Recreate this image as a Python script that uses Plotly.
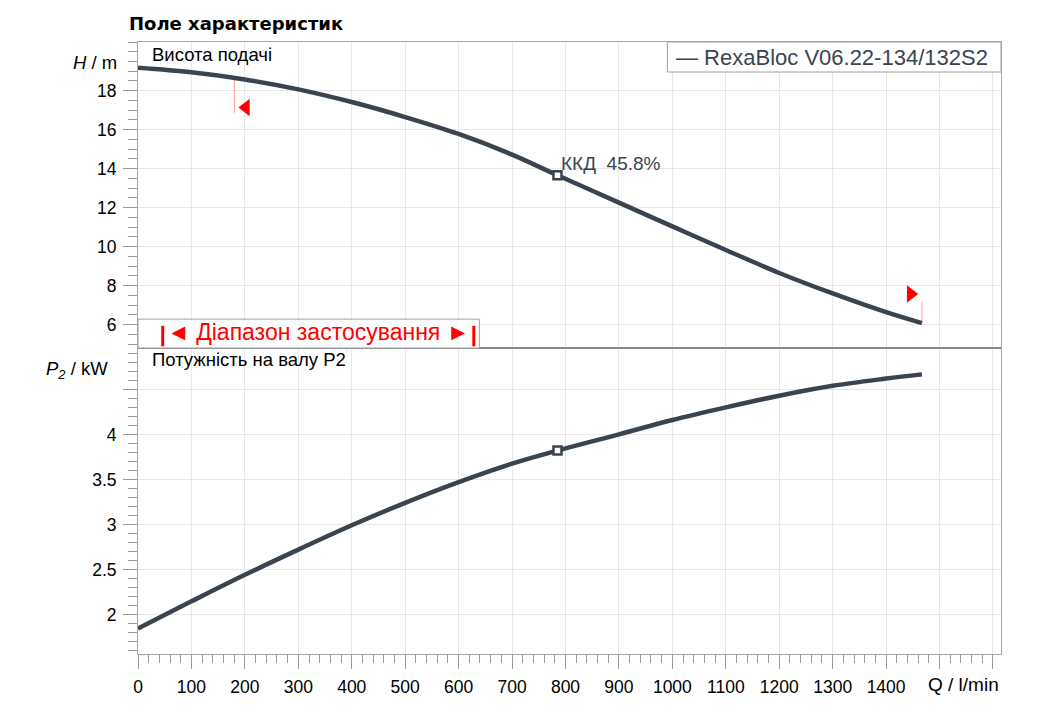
import plotly.graph_objects as go
from plotly.subplots import make_subplots

# ---------------- data ----------------
Q_curve = [0, 100, 200, 300, 400, 500, 600, 700, 785, 900, 1000, 1100, 1200, 1300, 1400, 1467]
H_curve = [19.18, 18.95, 18.58, 18.07, 17.42, 16.65, 15.78, 14.72, 13.66, 12.26, 11.04, 9.83, 8.65, 7.6, 6.64, 6.08]
P_curve = [1.844, 2.145, 2.44, 2.72, 2.99, 3.24, 3.47, 3.675, 3.82, 4.0, 4.16, 4.3, 4.43, 4.54, 4.62, 4.667]

Q_duty = [785]
H_duty = [13.66]
P_duty = [3.82]
eff_text = "ККД\u00a0\u00a045.8%"

Q_min_line = [180.4, 180.4]
H_min_line = [18.68, 16.87]
Q_max_line = [1467, 1467]
H_max_line = [7.2, 6.08]
Q_tri_left = [202]
H_tri_left = [17.14]
Q_tri_right = [1446]
H_tri_right = [7.57]

x_tickvals = list(range(0, 1500, 100))          # labelled ticks
x_extra_ticks = [1500, 1600]                     # unlabelled major ticks
H_tickvals = [6, 8, 10, 12, 14, 16, 18]
P_tickvals = [2, 2.5, 3, 3.5, 4]
P_extra_ticks = [4.5]

series_name = "RexaBloc V06.22-134/132S2"

# ---------------- style ----------------
FONT = "Liberation Sans, Arial, sans-serif"
CURVE = "#3a4450"
GRID = "#e8e8e8"
FRAME = "#a8a8a8"
TICKC = "#9a9a9a"
X_RANGE = [0, 1615]
H_RANGE = [4.8, 20.5]
P_RANGE = [1.56, 4.96]

fig = make_subplots(rows=2, cols=1, shared_xaxes=True, vertical_spacing=0)

# red range markers
fig.add_trace(go.Scatter(x=Q_min_line, y=H_min_line, mode="lines",
                         line=dict(color="#ff9c9c", width=1), hoverinfo="skip"), row=1, col=1)
fig.add_trace(go.Scatter(x=Q_max_line, y=H_max_line, mode="lines",
                         line=dict(color="#ff9c9c", width=1), hoverinfo="skip"), row=1, col=1)

# curves
fig.add_trace(go.Scatter(x=Q_curve, y=H_curve, mode="lines", name=series_name,
                         line=dict(color=CURVE, width=4.5, shape="spline", smoothing=1.0)), row=1, col=1)
fig.add_trace(go.Scatter(x=Q_curve, y=P_curve, mode="lines",
                         line=dict(color=CURVE, width=4.5, shape="spline", smoothing=1.0)), row=2, col=1)

# duty points
fig.add_trace(go.Scatter(x=Q_duty, y=H_duty, mode="markers",
                         marker=dict(symbol="square", size=8, color="white",
                                     line=dict(color=CURVE, width=2.5))), row=1, col=1)
fig.add_trace(go.Scatter(x=Q_duty, y=P_duty, mode="markers",
                         marker=dict(symbol="square", size=8, color="white",
                                     line=dict(color=CURVE, width=2.5))), row=2, col=1)

# triangles
fig.add_trace(go.Scatter(x=Q_tri_left, y=H_tri_left, mode="markers",
                         marker=dict(symbol="triangle-left", size=15, color="#ff0000")), row=1, col=1)
fig.add_trace(go.Scatter(x=Q_tri_right, y=H_tri_right, mode="markers",
                         marker=dict(symbol="triangle-right", size=15, color="#ff0000")), row=1, col=1)

# helper traces registering the overlay axes (unlabelled extra ticks / grid)
fig.add_trace(go.Scatter(x=[None], y=[None], xaxis="x3", yaxis="y2", mode="markers",
                         hoverinfo="skip", showlegend=False))
fig.add_trace(go.Scatter(x=[None], y=[None], xaxis="x2", yaxis="y3", mode="markers",
                         hoverinfo="skip", showlegend=False))

axis_common = dict(showline=True, mirror=True, linecolor=FRAME, linewidth=1,
                   showgrid=True, gridcolor=GRID, gridwidth=1, zeroline=False)

fig.update_layout(
    width=1045, height=722,
    margin=dict(l=138, r=44, t=42, b=68),
    paper_bgcolor="white", plot_bgcolor="white",
    showlegend=False,
    font=dict(family=FONT, size=17, color="black"),
    xaxis=dict(range=X_RANGE, tickmode="array", tickvals=x_tickvals + x_extra_ticks,
               showticklabels=False, ticks="", **axis_common),
    xaxis2=dict(range=X_RANGE, tickmode="array", tickvals=x_tickvals,
                ticks="outside", ticklen=14, tickcolor=TICKC, tickwidth=1,
                ticklabelstandoff=3,
                tickfont=dict(size=17.5, color="black"),
                minor=dict(tickmode="linear", tick0=0, dtick=20, ticks="outside",
                           ticklen=8, tickcolor=TICKC, showgrid=False),
                **axis_common),
    xaxis3=dict(range=X_RANGE, overlaying="x2", anchor="y2", side="bottom",
                tickmode="array", tickvals=x_extra_ticks, showticklabels=False,
                ticks="outside", ticklen=14, tickcolor=TICKC, tickwidth=1,
                showgrid=True, gridcolor=GRID, zeroline=False, showline=False),
    yaxis=dict(domain=[0.5, 1], range=H_RANGE, tickmode="array", tickvals=H_tickvals,
               ticks="outside", ticklen=14, tickcolor=TICKC, ticklabelstandoff=3,
               tickfont=dict(size=17.5, color="black"),
               minor=dict(tickmode="linear", tick0=0, dtick=0.5, ticks="outside",
                          ticklen=9, tickcolor=TICKC, showgrid=False),
               **axis_common),
    yaxis2=dict(domain=[0, 0.5], range=P_RANGE, tickmode="array", tickvals=P_tickvals,
                ticks="outside", ticklen=14, tickcolor=TICKC, ticklabelstandoff=3,
                tickfont=dict(size=17.5, color="black"),
                minor=dict(tickmode="linear", tick0=0, dtick=0.1, ticks="outside",
                           ticklen=9, tickcolor=TICKC, showgrid=False),
                **axis_common),
    yaxis3=dict(range=P_RANGE, overlaying="y2", anchor="x2", side="left",
                tickmode="array", tickvals=P_extra_ticks, showticklabels=False,
                ticks="outside", ticklen=14, tickcolor=TICKC, tickwidth=1,
                showgrid=True, gridcolor=GRID, zeroline=False, showline=False),
)

# pixel helpers for paper coordinates of decorations
L, R, T, B = 138.3, 1001.0, 42.3, 654.0
def px(xp):
    return (xp - L) / (R - L)
def py(yp):
    return (B - yp) / (B - T)

shapes = [
    # divider between panels
    dict(type="line", xref="paper", yref="paper", x0=0, x1=1, y0=0.5, y1=0.5,
         line=dict(color="#7f7f7f", width=1.5)),
    # legend box
    dict(type="rect", xref="paper", yref="paper", x0=px(667.5), x1=1, y0=py(72.3), y1=1,
         fillcolor="white", line=dict(color="#a0a0a0", width=1)),
    # range box
    dict(type="rect", xref="paper", yref="paper", x0=0, x1=px(479.5), y0=0.5, y1=py(319.3),
         fillcolor="white", line=dict(color="#a0a0a0", width=1)),
    # red bars
    dict(type="line", xref="paper", yref="paper", x0=px(163), x1=px(163), y0=py(346.5), y1=py(326),
         line=dict(color="#ff0000", width=3)),
    dict(type="line", xref="paper", yref="paper", x0=px(474), x1=px(474), y0=py(346.5), y1=py(326),
         line=dict(color="#ff0000", width=3)),
]
fig.update_layout(shapes=shapes)

annotations = [
    dict(text="<b>Поле характеристик</b>", xref="paper", yref="paper", x=px(127.5), y=py(23.5),
         xanchor="left", yanchor="middle", showarrow=False,
         font=dict(size=18, color="black", family="DejaVu Sans, Verdana, sans-serif")),
    dict(text="Висота подачі", xref="paper", yref="paper", x=px(150.5), y=py(54.5),
         xanchor="left", yanchor="middle", showarrow=False, font=dict(size=18.5, color="black")),
    dict(text="Потужність на валу P2", xref="paper", yref="paper", x=px(150.5), y=py(360),
         xanchor="left", yanchor="middle", showarrow=False, font=dict(size=18.5, color="black")),
    dict(text="<i>H</i> / m", xref="paper", yref="paper", x=px(119), y=py(62.5),
         xanchor="right", yanchor="middle", showarrow=False, font=dict(size=18.5, color="black")),
    dict(text="<i>P<sub>2</sub></i> / kW", xref="paper", yref="paper", x=px(110), y=py(370),
         xanchor="right", yanchor="middle", showarrow=False, font=dict(size=18.5, color="black")),
    dict(text="Q / l/min", xref="paper", yref="paper", x=1, y=py(684.5),
         xanchor="right", yanchor="middle", showarrow=False, font=dict(size=19, color="black")),
    dict(text="\u2014 " + series_name, xref="paper", yref="paper", x=px(674.5), y=py(57.5),
         xanchor="left", yanchor="middle", showarrow=False, font=dict(size=22, color="#3b4552")),
    dict(text="\u25c4 Діапазон застосування \u25ba", xref="paper", yref="paper", x=px(318.5), y=py(332),
         xanchor="center", yanchor="middle", showarrow=False, font=dict(size=23, color="#ff0000")),
    dict(text=eff_text, xref="x", yref="y", x=Q_duty[0], y=H_duty[0],
         xanchor="left", yanchor="middle", xshift=2, yshift=12, showarrow=False,
         font=dict(size=19, color="#3b4552")),
]
fig.update_layout(annotations=annotations)

fig.write_html("out.html", config={"displayModeBar": False},
               post_script="document.body.style.margin='0';document.body.style.padding='0';")
